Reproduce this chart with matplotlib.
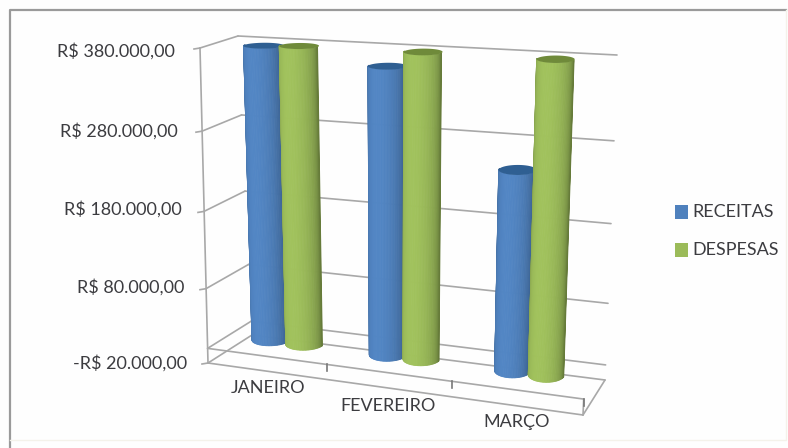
import numpy as np
import matplotlib
matplotlib.use("Agg")
import matplotlib.pyplot as plt
from matplotlib.colors import to_rgb
from matplotlib.patches import Rectangle

months = ["JANEIRO", "FEVEREIRO", "MARÇO"]
receitas = [378000, 362000, 250000]
despesas = [380000, 381000, 381000]
series_names = ["RECEITAS", "DESPESAS"]
tick_values = [-20000, 80000, 180000, 280000, 380000]
tick_labels = ["-R$ 20.000,00", "R$ 80.000,00", "R$ 180.000,00", "R$ 280.000,00", "R$ 380.000,00"]

VMIN, VMAX = -20000, 380000
# screen positions of the box corners (front/back, left/right), (top, bottom)
FL = ((200, 48), (208, 363))
BL = ((238, 36), (252, 335))
BR = ((617, 55), (605, 380))
FR = ((597, 72), (583, 415))
GROUP_U = [0.158, 0.478, 0.82]
TICK_U = [0.317, 0.651, 1.0]


def proj(u, d, v):
    """u: 0..1 along categories, d: 0 front..1 back, v: value"""
    u, d, v = np.asarray(u, float), np.asarray(d, float), np.asarray(v, float)
    t0 = (VMAX - v) / (VMAX - VMIN)
    out = []
    for i in range(2):
        # vertical spacing shrinks slightly towards the floor; x stays straight
        t = t0 if i == 0 else t0 + 0.075 * t0 * (1 - t0)
        fl = FL[0][i] + (FL[1][i] - FL[0][i]) * t
        bl = BL[0][i] + (BL[1][i] - BL[0][i]) * t
        br = BR[0][i] + (BR[1][i] - BR[0][i]) * t
        fr = FR[0][i] + (FR[1][i] - FR[0][i]) * t
        out.append((1 - u) * (1 - d) * fl + (1 - u) * d * bl + u * d * br + u * (1 - d) * fr)
    return out[0], out[1]


fig = plt.figure(figsize=(7.88, 4.48), dpi=100, facecolor="#fefefe")
ax = fig.add_axes([0, 0, 1, 1])
ax.set_xlim(0, 788)
ax.set_ylim(448, 0)
ax.axis("off")
plt.rcParams["font.family"] = ["Lato", "DejaVu Sans"]

GRID = "#a8a8a8"
TXT = "#3c3c40"
FS = 13
ax.plot([10, 10, 786], [448, 10, 10], color="#9a9a9a", lw=1.6)
ax.plot([10, 786, 786], [440, 440, 10], color="#f4f2ea", lw=1)


def line3(p, q):
    x0, y0 = proj(*p)
    x1, y1 = proj(*q)
    ax.plot([x0, x1], [y0, y1], color=GRID, lw=1.2, solid_capstyle="round")


for v in tick_values:
    line3((0, 0, v), (0, 1, v))
    line3((0, 1, v), (1, 1, v))
    x, y = proj(0, 0, v)
    ax.plot([x - 6, x], [y + 1, y], color=GRID, lw=1.2)
line3((0, 0, VMAX), (0, 0, VMIN))
line3((0, 0, 0), (0, 1, 0))
line3((0, 1, 0), (1, 1, 0))
line3((0, 0, 0), (1, 0, 0))
line3((0, 0, VMIN), (1, 0, VMIN))
line3((1, 0, VMIN), (1, 1, VMIN))
line3((1, 0, 0), (1, 0, VMIN))
for u in TICK_U:
    x0, y0 = proj(u, 0, 0)
    ax.plot([x0, x0], [y0, y0 + 7], color="#777777", lw=1.2)

LABEL_Y = [363, 287, 209, 131, 51]
LABEL_R = [187, 184, 182, 178, 175]
for lab, ly, lr in zip(tick_labels, LABEL_Y, LABEL_R):
    ax.text(lr, ly, lab, ha="right", va="center", fontsize=FS, color=TXT)

MONTH_POS = [(268, 388), (388, 406), (517, 422)]
for m, (lx, ly) in zip(months, MONTH_POS):
    ax.text(lx, ly, m, ha="center", va="center", fontsize=FS, color=TXT)


def shade(base, f):
    return tuple(np.clip(np.array(to_rgb(base)) * f, 0, 1))


def cylinder(uc, dc, val, base, top):
    ru, rd = 0.0475, 0.22
    th = np.linspace(np.pi, 2 * np.pi, 41)
    xb, yb = proj(uc + ru * np.cos(th), dc + rd * np.sin(th), 0 * th)
    xt, yt = proj(uc + ru * np.cos(th), dc + rd * np.sin(th), val + 0 * th)
    n = len(th) - 1
    for i in range(n):
        s = (i + .5) / n
        f = 0.6 + 0.44 * np.sin(np.pi * s ** 0.85) ** 0.6
        c = shade(base, f)
        ax.fill([xt[i], xt[i + 1], xb[i + 1], xb[i]], [yt[i], yt[i + 1], yb[i + 1], yb[i]],
                fc=c, ec=c, lw=0.6, zorder=3)
    ang = np.linspace(0, 2 * np.pi, 80)
    xe, ye = proj(uc + ru * np.cos(ang), dc + rd * np.sin(ang), val + 0 * ang)
    ax.fill(xe, ye, color=top, lw=0, zorder=3)


BLUE, GREEN = "#4f81bd", "#9bbb59"
BLUE_TOP, GREEN_TOP = "#2f5f92", "#6f8a3a"
offs = [-0.046, 0.046]
for i, uc in enumerate(GROUP_U):
    cylinder(uc + offs[0], 0.53, receitas[i], BLUE, BLUE_TOP)
    cylinder(uc + offs[1], 0.53, despesas[i], GREEN, GREEN_TOP)

for name, col, y in zip(series_names, [BLUE, GREEN], [212, 250]):
    ax.add_patch(Rectangle((675, y - 7), 13, 14, fc=col, ec="none"))
    ax.text(692, y, name, ha="left", va="center", fontsize=FS, color=TXT)

fig.savefig("out.png", dpi=100, facecolor=fig.get_facecolor())
